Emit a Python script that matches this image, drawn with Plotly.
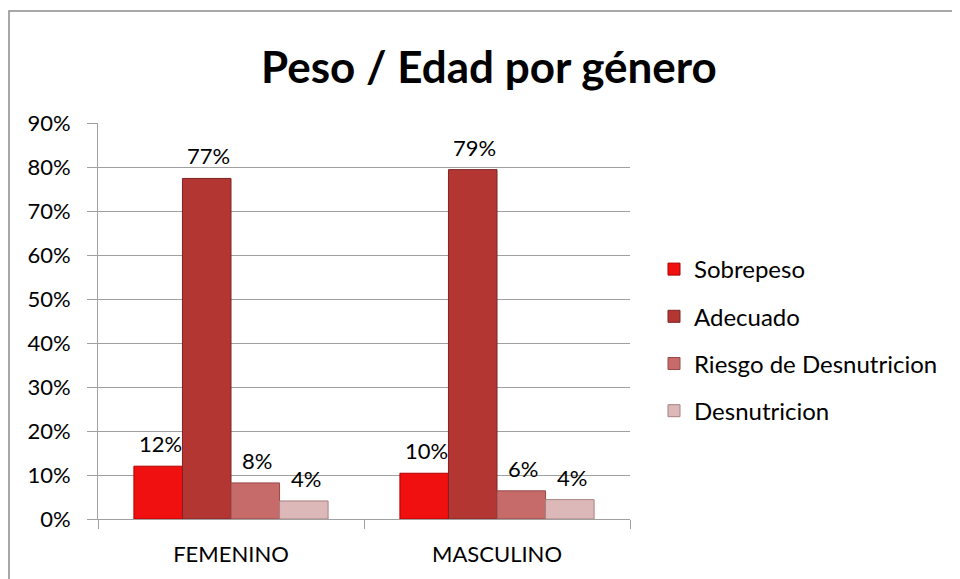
import plotly.graph_objects as go

categories = ["FEMENINO", "MASCULINO"]
series_names = ["Sobrepeso", "Adecuado", "Riesgo de Desnutricion", "Desnutricion"]
sobrepeso = [0.12, 0.104]
adecuado = [0.774, 0.794]
riesgo = [0.082, 0.064]
desnutricion = [0.041, 0.044]
y_ticks = [0, 0.1, 0.2, 0.3, 0.4, 0.5, 0.6, 0.7, 0.8, 0.9]
title = "Peso / Edad por género"

values = [sobrepeso, adecuado, riesgo, desnutricion]
colors = ["#F01010", "#B33633", "#C76A6A", "#DDB8B8"]
edges = ["#B00000", "#7E2222", "#9A4848", "#A88080"]

FONT = "Lato, 'Open Sans', sans-serif"

# page body has an 8px margin, so figure coords = screen coords - 8
L, R, T, B = 90, 622, 115, 511
W, H = 952, 571
pw, ph = R - L, B - T
BARGAP = 0.27
n_series = len(series_names)
bar_px = pw / len(categories) * (1 - BARGAP) / n_series

def px(x):
    return (x - L) / pw
def py(y):
    return (B - y) / ph

fig = go.Figure()
annotations = []
for i, (name, vals) in enumerate(zip(series_names, values)):
    fig.add_trace(go.Bar(
        x=categories, y=vals, name=name,
        marker=dict(color=colors[i], line=dict(color=edges[i], width=1)),
        legendgroup=name,
    ))
    for cat, v in zip(categories, vals):
        annotations.append(dict(
            x=cat, y=v, xref="x", yref="y", text=f"{v:.0%}",
            showarrow=False, yanchor="bottom", xanchor="center",
            xshift=(i - (n_series - 1) / 2) * bar_px + 2, yshift=7,
            font=dict(size=22, color="black", family=FONT),
        ))

fig.update_layout(
    width=W, height=H,
    margin=dict(l=L, r=W - R, t=T, b=H - B),
    paper_bgcolor="white", plot_bgcolor="white",
    barmode="group", bargap=BARGAP, bargroupgap=0,
    font=dict(family=FONT, color="black"),
    title=dict(text="<b>" + title + "</b>", x=481 / W, xanchor="center",
               y=1 - 60 / H, yanchor="middle",
               font=dict(size=44, family=FONT, color="black")),
    legend=dict(x=px(646), xanchor="left", y=py(332), yanchor="middle",
                font=dict(size=24, family=FONT, color="black"),
                tracegroupgap=13, itemwidth=30, bgcolor="rgba(0,0,0,0)"),
    showlegend=True,
    annotations=annotations,
    shapes=[dict(type="rect", xref="paper", yref="paper",
                 x0=px(1), x1=px(970), y0=py(590), y1=py(3),
                 line=dict(color="#8C8C8C", width=1.5), layer="below")],
)
fig.update_yaxes(range=[0, 0.9], tickvals=y_ticks, tickformat=".0%",
                 showgrid=True, gridcolor="#A0A0A0", gridwidth=1,
                 showline=True, linecolor="#A0A0A0", linewidth=1,
                 ticks="outside", ticklen=10, tickcolor="#A0A0A0",
                 ticklabelstandoff=12, zeroline=False,
                 tickfont=dict(size=22, family=FONT, color="black"))
fig.update_xaxes(showline=True, linecolor="#A0A0A0", linewidth=1,
                 ticks="outside", ticklen=9, tickcolor="#A0A0A0",
                 tickson="boundaries", ticklabelstandoff=16,
                 tickfont=dict(size=22, family=FONT, color="black"))

fig.write_html("out.html")
